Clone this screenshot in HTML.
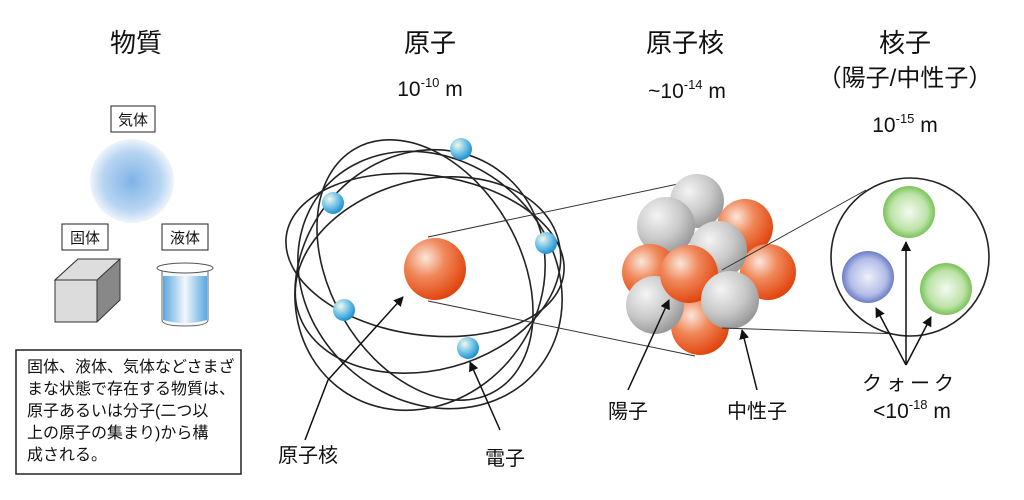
<!DOCTYPE html>
<html><head><meta charset="utf-8"><style>
body{margin:0;background:#fff;width:1024px;height:495px;overflow:hidden}
svg text{font-family:"Liberation Sans","Noto Sans CJK JP",sans-serif;fill:#111}
</style></head><body>
<svg width="1024" height="495" viewBox="0 0 1024 495">
<defs>
<radialGradient id="gas"><stop offset="0" stop-color="#7fb3e6"/><stop offset="0.7" stop-color="#b8d5f2"/><stop offset="1" stop-color="#eef5fc"/></radialGradient>
<radialGradient id="or" cx="0.35" cy="0.32" r="0.7"><stop offset="0" stop-color="#fbe6da"/><stop offset="0.45" stop-color="#f0885a"/><stop offset="1" stop-color="#e2450e"/></radialGradient>
<radialGradient id="gr" cx="0.35" cy="0.32" r="0.7"><stop offset="0" stop-color="#f4f4f4"/><stop offset="0.6" stop-color="#c8c8c8"/><stop offset="1" stop-color="#9a9a9a"/></radialGradient>
<radialGradient id="el" cx="0.35" cy="0.32" r="0.7"><stop offset="0" stop-color="#f2f8e6"/><stop offset="0.5" stop-color="#7cc8ea"/><stop offset="1" stop-color="#1e90d0"/></radialGradient>
<radialGradient id="gq"><stop offset="0" stop-color="#f4faf0"/><stop offset="0.7" stop-color="#bde3a8"/><stop offset="1" stop-color="#7ac35a"/></radialGradient>
<radialGradient id="bq"><stop offset="0" stop-color="#eef0fa"/><stop offset="0.7" stop-color="#b4bde8"/><stop offset="1" stop-color="#6c7cc8"/></radialGradient>
<linearGradient id="liq" x1="0" x2="1"><stop offset="0" stop-color="#5aa6e0"/><stop offset="0.5" stop-color="#f2f8fd"/><stop offset="1" stop-color="#5aa6e0"/></linearGradient>
<marker id="ar" markerWidth="10" markerHeight="10" refX="9" refY="5" orient="auto" markerUnits="userSpaceOnUse"><path d="M0,0 L10,5 L0,10 z" fill="#111"/></marker>
</defs>
<!-- titles -->
<text x="136" y="52" font-size="26" text-anchor="middle">物質</text>
<text x="430" y="52" font-size="26" text-anchor="middle">原子</text>
<text x="685" y="52" font-size="26" text-anchor="middle">原子核</text>
<text x="905" y="52" font-size="26" text-anchor="middle">核子</text>
<text x="905" y="86" font-size="24" text-anchor="middle">（陽子/中性子）</text>
<text x="430" y="96" font-size="21" text-anchor="middle">10<tspan font-size="13" dy="-9">-10</tspan><tspan dy="9"> m</tspan></text>
<text x="687" y="98" font-size="21" text-anchor="middle">~10<tspan font-size="13" dy="-9">-14</tspan><tspan dy="9"> m</tspan></text>
<text x="905" y="132" font-size="21" text-anchor="middle">10<tspan font-size="13" dy="-9">-15</tspan><tspan dy="9"> m</tspan></text>
<!-- matter -->
<rect x="111" y="106" width="44" height="26" fill="#fff" stroke="#222"/><text x="133" y="125" font-size="15" text-anchor="middle">気体</text>
<circle cx="132" cy="181" r="42" fill="url(#gas)"/>
<rect x="62" y="224" width="46" height="26" fill="#fff" stroke="#222"/><text x="85" y="243" font-size="15" text-anchor="middle">固体</text>
<rect x="162" y="224" width="46" height="26" fill="#fff" stroke="#222"/><text x="185" y="243" font-size="15" text-anchor="middle">液体</text>
<polygon points="55,280 78,259 120,259 120,300 97,322 55,322" fill="#888" stroke="#333"/>
<polygon points="55,280 78,259 120,259 97,280" fill="#ddd" stroke="#333"/>
<rect x="55" y="280" width="42" height="42" fill="#dcdcdc" stroke="#333"/>
<path d="M162,268 h46 v52 q0,6 -23,6 q-23,0 -23,-6 z" fill="#f6f9fc" stroke="#666"/>
<path d="M163,276 h44 v44 q-22,6 -44,0 z" fill="url(#liq)"/>
<ellipse cx="185" cy="268" rx="28" ry="5" fill="#fff" stroke="#555"/>
<rect x="16" y="350" width="225" height="124" fill="#fff" stroke="#222" stroke-width="1.5"/>
<text font-size="16" font-family="'Liberation Serif','Noto Serif CJK SC',serif"><tspan x="27" y="372">固体、液体、気体などさまざ</tspan><tspan x="27" y="394">まな状態で存在する物質は、</tspan><tspan x="27" y="416">原子あるいは分子(二つ以</tspan><tspan x="27" y="438">上の原子の集まり)から構</tspan><tspan x="27" y="460">成される。</tspan></text>
<!-- orbits -->
<g fill="none" stroke="#222" stroke-width="1.6">
<ellipse cx="425" cy="255" rx="140" ry="80" transform="rotate(8 425 255)"/>
<ellipse cx="428" cy="275" rx="135" ry="95" transform="rotate(-15 428 275)"/>
<ellipse cx="420" cy="280" rx="120" ry="135" transform="rotate(35 420 280)"/>
<ellipse cx="430" cy="280" rx="140" ry="120" transform="rotate(40 430 280)"/>
<ellipse cx="425" cy="270" rx="95" ry="140" transform="rotate(-30 425 270)"/>
</g>
<line x1="428" y1="237" x2="692" y2="181" stroke="#333"/>
<line x1="428" y1="301" x2="695" y2="356" stroke="#333"/>
<circle cx="435" cy="269" r="31" fill="url(#or)"/>
<g fill="url(#el)"><circle cx="461" cy="149" r="11"/><circle cx="333" cy="203" r="11"/><circle cx="546" cy="243" r="11"/><circle cx="344" cy="310" r="11"/><circle cx="468" cy="348" r="11"/></g>
<line x1="328" y1="380" x2="403" y2="297" stroke="#111" stroke-width="1.5" marker-end="url(#ar)"/>
<line x1="325" y1="375" x2="335" y2="370" stroke="none"/>
<line x1="500" y1="430" x2="470" y2="362" stroke="#111" stroke-width="1.5" marker-end="url(#ar)"/>
<path d="M305,440 L328,380" stroke="#111" stroke-width="1.5"/>
<text x="308" y="462" font-size="20" text-anchor="middle">原子核</text>
<text x="505" y="465" font-size="20" text-anchor="middle">電子</text>
<!-- nucleus -->
<circle cx="697" cy="201" r="27" fill="url(#gr)"/>
<circle cx="745" cy="227" r="28" fill="url(#or)"/>
<circle cx="666" cy="226" r="29" fill="url(#gr)"/>
<circle cx="768" cy="272" r="28" fill="url(#or)"/>
<circle cx="650" cy="272" r="28" fill="url(#or)"/>
<circle cx="718" cy="250" r="29" fill="url(#gr)"/>
<circle cx="700" cy="326" r="29" fill="url(#or)"/>
<circle cx="655" cy="305" r="29" fill="url(#gr)"/>
<circle cx="689" cy="274" r="29" fill="url(#or)"/>
<circle cx="730" cy="300" r="29" fill="url(#gr)"/>
<line x1="722" y1="270" x2="866" y2="190" stroke="#333"/>
<line x1="722" y1="328" x2="900" y2="334" stroke="#333"/>
<line x1="628" y1="390" x2="669" y2="300" stroke="#111" stroke-width="1.5" marker-end="url(#ar)"/>
<line x1="757" y1="390" x2="742" y2="330" stroke="#111" stroke-width="1.5" marker-end="url(#ar)"/>
<text x="628" y="418" font-size="20" text-anchor="middle">陽子</text>
<text x="757" y="418" font-size="20" text-anchor="middle">中性子</text>
<!-- quarks -->
<circle cx="910" cy="257" r="79" fill="#fff" stroke="#222" stroke-width="1.6"/>
<circle cx="909" cy="212" r="26" fill="url(#gq)"/>
<circle cx="868" cy="277" r="26" fill="url(#bq)"/>
<circle cx="946" cy="289" r="26" fill="url(#gq)"/>
<g stroke="#111" stroke-width="1.5"><line x1="906" y1="365" x2="906" y2="242" marker-end="url(#ar)"/><line x1="906" y1="365" x2="876" y2="308" marker-end="url(#ar)"/><line x1="906" y1="365" x2="931" y2="317" marker-end="url(#ar)"/></g>
<text x="910" y="390" font-size="20" text-anchor="middle" letter-spacing="4">クォーク</text>
<text x="912" y="418" font-size="21" text-anchor="middle">&lt;10<tspan font-size="13" dy="-9">-18</tspan><tspan dy="9"> m</tspan></text>
</svg>
</body></html>
